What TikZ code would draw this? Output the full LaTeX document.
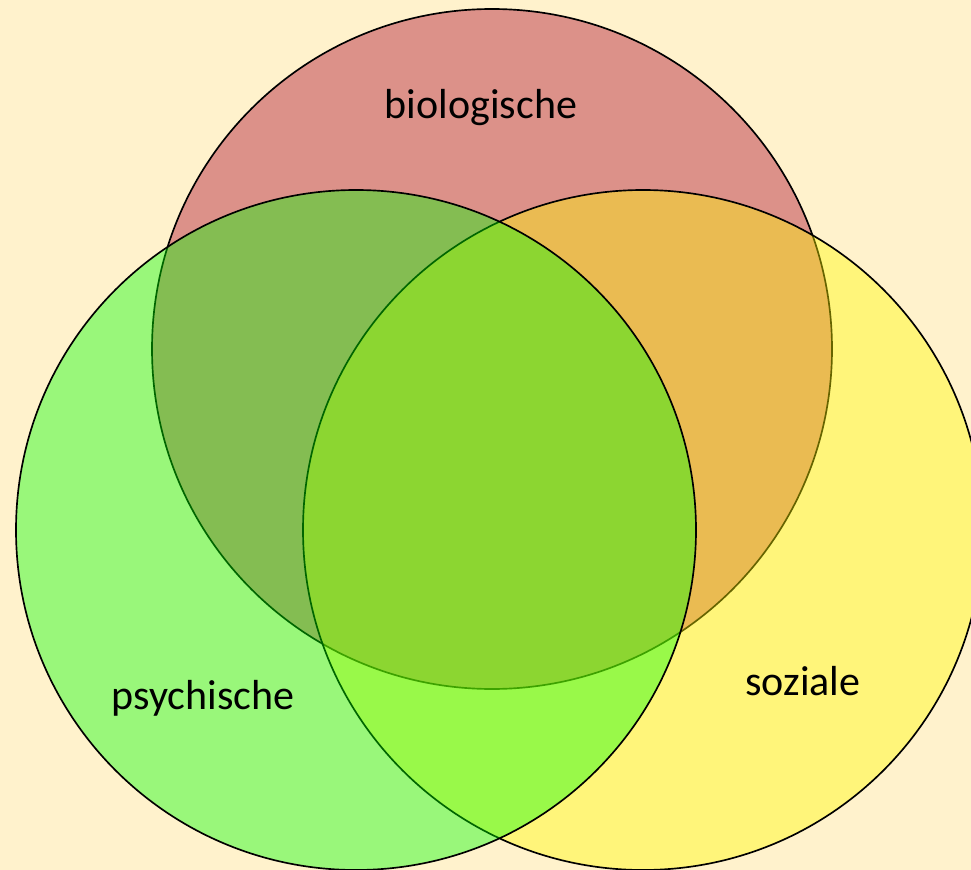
\documentclass[tikz,border=0pt]{standalone}
\usepackage{fontspec}
\setmainfont{Carlito}
\definecolor{bgcream}{RGB}{255,242,204}
\definecolor{bioRed}{RGB}{220,145,137}
\definecolor{sozYellow}{RGB}{255,250,0}
\definecolor{psyGreen}{RGB}{0,255,0}
\begin{document}
\begin{tikzpicture}[x=0.75pt,y=-0.75pt,
    ring/.style={draw=black, line width=1.25pt},
    label/.style={font=\fontsize{31.5}{38}\selectfont, text=black}]
	  % Radius of all three circles
	  \def\R{340}
	
	  % Background and page frame
	  \fill[bgcream] (0,0) rectangle (971,870);
	  \clip (0,0) rectangle (971,870);
	
	  % Biological circle (bottom layer)
	  \draw[ring, fill=bioRed] (492,349) circle (\R);
	
	  % Social circle
	  \draw[ring, fill=sozYellow, fill opacity=0.4] (643,530) circle (\R);
	
	  % Psychological circle (top layer)
	  \draw[ring, fill=psyGreen, fill opacity=0.4] (356,530) circle (\R);
	
	  % Labels
	  \node[label] (bio) at (481,108) {biologische};
	  \node[label] (psy) at (203,698) {psychische};
	  \node[label] (soz) at (803,681) {soziale};
	\end{tikzpicture}
\end{document}
